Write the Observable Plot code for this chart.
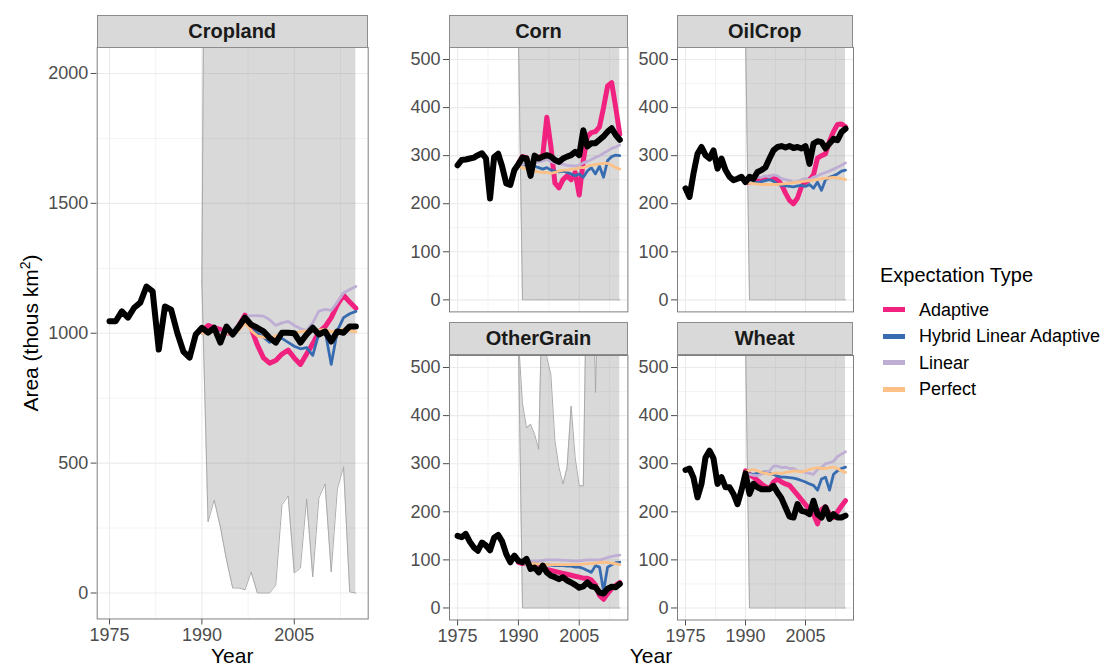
<!DOCTYPE html>
<html>
<head>
<meta charset="utf-8">
<script src="https://cdn.jsdelivr.net/npm/d3@7"></script>
<script src="https://cdn.jsdelivr.net/npm/@observablehq/plot@0.6"></script>
<style>
  body { margin: 0; background: #fff; }
  #root { position: relative; width: 1108px; height: 666px; overflow: hidden; background: #fff;
          font-family: "Liberation Sans", Arial, sans-serif; }
  .panel { position: absolute; }
  .strip { position: absolute; box-sizing: border-box; background: #D9D9D9; border: 1px solid #8C8C8C;
           font-weight: bold; font-size: 20px; color: #1A1A1A; display: flex; align-items: center;
           justify-content: center; line-height: 20px; }
  .ltitle { position: absolute; font-size: 20px; line-height: 20px; color: #000; white-space: nowrap; }
  .lswatch { position: absolute; width: 22px; height: 5px; }
  .llabel { position: absolute; font-size: 18px; line-height: 18px; color: #000; white-space: nowrap; }
</style>
</head>
<body>
<div id="root"></div>
<script>
// ---------------- data ----------------
const years = [1975,1976,1977,1978,1979,1980,1981,1982,1983,1984,1985,1986,1987,1988,1989,1990,1991,1992,1993,1994,1995,1996,1997,1998,1999,2000,2001,2002,2003,2004,2005,2006,2007,2008,2009,2010,2011,2012,2013,2014,2015];
const projYears = [1990,1991,1992,1993,1994,1995,1996,1997,1998,1999,2000,2001,2002,2003,2004,2005,2006,2007,2008,2009,2010,2011,2012,2013,2014,2015];

const seriesNames = ["Adaptive", "Hybrid Linear Adaptive", "Linear", "Perfect"];
const seriesColors = ["#F0217F", "#386CB0", "#BEAED4", "#FDC086"];

const xTicks = [1975, 1990, 2005];
const xMinor = [1982.5, 1997.5, 2012.5];
const cropYTicks = [0, 500, 1000, 1500, 2000];
const cropYMinor = [250, 750, 1250, 1750];
const smallYTicks = [0, 100, 200, 300, 400, 500];
const smallYMinor = [50, 150, 250, 350, 450];

// Cropland
const croplandObserved = [1046,1046,1084,1060,1098,1118,1180,1161,937,1103,1091,1002,929,906,995,1021,1002,1021,964,1026,995,1026,1060,1033,1021,1007,982,964,1002,1002,1000,964,995,1021,995,1007,968,1007,1002,1026,1026];
const croplandAdaptive = [1007,1030,1021,1015,1002,1000,1030,1070,1020,955,905,885,895,920,935,905,880,920,960,1005,1025,1060,1110,1147,1120,1096];
const croplandHybrid   = [1000,1005,1010,1000,1000,1005,1025,1050,1030,1000,985,965,975,980,965,950,940,945,915,1000,1010,880,1010,1060,1075,1084];
const croplandLinear   = [1000,1003,1008,1000,1005,1012,1035,1062,1068,1068,1066,1052,1030,1040,1046,1030,1018,1010,1040,1085,1092,1088,1120,1155,1168,1180];
const croplandPerfect  = [1000,1002,1005,995,1000,1002,1010,1040,1010,990,985,980,990,998,1000,1002,1005,1010,1008,1012,1015,1005,1010,1015,1010,1005];
const croplandLower    = [1200,274,358,254,127,19,19,12,81,0,0,0,31,339,374,77,96,362,62,366,420,81,401,486,4,0];
const croplandUpper    = [1200,5000,5000,5000,5000,5000,5000,5000,5000,5000,5000,5000,5000,5000,5000,5000,5000,5000,5000,5000,5000,5000,5000,5000,5000,5000];

// Corn
const cornObserved = [280,291,292,294,296,301,305,294,211,297,304,277,242,239,270,282,296,294,258,300,294,298,301,298,291,287,294,298,301,308,301,353,319,326,326,333,340,350,357,343,333];
const cornAdaptive = [285,298,296,265,292,296,300,380,320,243,233,250,258,250,265,218,290,340,348,350,360,400,445,452,400,345];
const cornHybrid   = [278,282,280,276,278,275,272,275,270,268,266,268,265,262,258,262,255,268,275,262,278,255,290,298,301,300];
const cornLinear   = [280,282,284,283,285,287,289,292,288,285,283,282,280,279,278,280,285,288,292,296,300,305,310,315,318,322];
const cornPerfect  = [278,275,272,270,268,266,265,265,263,265,268,270,270,272,272,275,275,278,280,282,283,284,284,280,275,272];
const cornLower    = [560,0,0,0,0,0,0,0,0,0,0,0,0,0,0,0,0,0,0,0,0,0,0,0,0,0];
const cornUpper    = [560,1000,1000,1000,1000,1000,1000,1000,1000,1000,1000,1000,1000,1000,1000,1000,1000,1000,1000,1000,1000,1000,1000,1000,1000,1000];

// OilCrop
const oilObserved = [232,214,263,304,318,301,294,311,273,294,270,256,249,252,256,245,256,252,266,270,276,294,311,318,320,317,320,316,318,315,320,283,325,330,328,315,325,335,332,349,356];
const oilAdaptive = [245,245,248,250,252,254,255,255,250,240,222,207,200,212,236,245,250,260,295,300,304,330,350,365,366,360];
const oilHybrid   = [248,246,245,244,246,248,250,247,240,238,237,236,235,237,238,236,240,232,245,228,250,255,258,262,268,270];
const oilLinear   = [250,248,252,255,255,258,256,260,258,252,250,248,245,246,250,252,250,255,258,262,265,268,272,276,280,285];
const oilPerfect  = [245,243,242,241,240,240,240,240,240,241,242,243,244,245,246,247,248,249,250,252,253,254,255,254,252,250];
const oilLower    = [560,0,0,0,0,0,0,0,0,0,0,0,0,0,0,0,0,0,0,0,0,0,0,0,0,0];
const oilUpper    = [560,1000,1000,1000,1000,1000,1000,1000,1000,1000,1000,1000,1000,1000,1000,1000,1000,1000,1000,1000,1000,1000,1000,1000,1000,1000];

// OtherGrain
const grainObserved = [150,147,154,138,126,119,136,130,120,146,152,138,112,95,109,98,95,102,81,84,74,88,74,67,64,60,64,57,53,48,42,45,53,45,43,32,30,40,44,43,50];
const grainAdaptive = [95,92,95,88,85,84,82,80,78,76,74,72,70,68,66,64,62,62,58,48,26,18,30,40,47,53];
const grainHybrid   = [95,94,93,92,92,91,90,90,89,88,88,88,87,87,85,85,82,78,74,88,85,35,85,90,94,95];
const grainLinear   = [95,96,97,97,98,98,99,100,100,100,100,99,99,98,98,98,99,100,100,100,100,102,105,107,109,110];
const grainPerfect  = [95,94,93,92,92,91,91,90,90,90,90,90,90,90,90,90,91,92,92,93,95,95,95,93,92,90];
const grainLower    = [560,0,0,0,0,0,0,0,0,0,0,0,0,0,0,0,0,0,0,0,0,0,0,0,0,0];
const grainUpper    = [560,425,375,382,361,330,700,521,486,348,292,258,292,420,313,254,254,800,800,448,800,800,800,800,800,800];

// Wheat
const wheatObserved = [287,290,271,230,258,313,327,311,258,272,251,251,237,216,245,280,237,258,251,247,247,247,254,240,228,209,190,188,216,202,200,195,223,195,188,209,185,195,188,188,192];
const wheatAdaptive = [285,278,272,265,258,252,248,262,268,262,258,255,245,235,225,215,205,195,175,205,210,195,188,200,212,223];
const wheatHybrid   = [280,279,278,280,282,283,280,278,274,272,272,271,270,268,265,262,258,255,245,268,272,245,278,285,290,293];
const wheatLinear   = [280,278,276,275,278,282,285,295,295,292,293,290,290,285,284,282,280,278,288,292,300,302,305,315,320,325];
const wheatPerfect  = [283,286,288,285,282,280,278,280,281,280,282,283,285,284,283,285,288,290,292,290,290,292,293,290,285,282];
const wheatLower    = [560,0,0,0,0,0,0,0,0,0,0,0,0,0,0,0,0,0,0,0,0,0,0,0,0,0];
const wheatUpper    = [560,1000,1000,1000,1000,1000,1000,1000,1000,1000,1000,1000,1000,1000,1000,1000,1000,1000,1000,1000,1000,1000,1000,1000,1000,1000];

// ---------------- panels ----------------
const panels = [
  { name: "Cropland", observed: croplandObserved, proj: [croplandAdaptive, croplandHybrid, croplandLinear, croplandPerfect],
    lower: croplandLower, upper: croplandUpper, ydomain: [-100, 2100], yticks: cropYTicks, yminor: cropYMinor,
    frame: { x0: 96.7, x1: 367.7, y0: 47.3, y1: 618.8 }, xAxis: true, ml: 96.7 },
  { name: "Corn", observed: cornObserved, proj: [cornAdaptive, cornHybrid, cornLinear, cornPerfect],
    lower: cornLower, upper: cornUpper, ydomain: [-25, 525], yticks: smallYTicks, yminor: smallYMinor,
    frame: { x0: 449.3, x1: 627.7, y0: 47.3, y1: 311.7 }, xAxis: false, ml: 60 },
  { name: "OilCrop", observed: oilObserved, proj: [oilAdaptive, oilHybrid, oilLinear, oilPerfect],
    lower: oilLower, upper: oilUpper, ydomain: [-25, 525], yticks: smallYTicks, yminor: smallYMinor,
    frame: { x0: 676.7, x1: 852.7, y0: 47.3, y1: 311.7 }, xAxis: false, ml: 60 },
  { name: "OtherGrain", observed: grainObserved, proj: [grainAdaptive, grainHybrid, grainLinear, grainPerfect],
    lower: grainLower, upper: grainUpper, ydomain: [-25, 525], yticks: smallYTicks, yminor: smallYMinor,
    frame: { x0: 449.3, x1: 627.7, y0: 354.5, y1: 619 }, xAxis: true, ml: 60 },
  { name: "Wheat", observed: wheatObserved, proj: [wheatAdaptive, wheatHybrid, wheatLinear, wheatPerfect],
    lower: wheatLower, upper: wheatUpper, ydomain: [-25, 525], yticks: smallYTicks, yminor: smallYMinor,
    frame: { x0: 676.7, x1: 852.7, y0: 354.5, y1: 619 }, xAxis: true, ml: 60 }
];

const root = document.getElementById("root");
const projWidths = [5, 2.8, 2.8, 2.8];

for (const p of panels) {
  const f = p.frame;
  const mt = 2, mr = 4, mb = p.xAxis ? 30 : 4;
  const w = p.ml + (f.x1 - f.x0) + mr;
  const h = mt + (f.y1 - f.y0) + mb;
  const obs = years.map((yr, i) => ({ year: yr, v: p.observed[i] }));
  const band = projYears.map((yr, i) => ({ year: yr, lo: p.lower[i], hi: p.upper[i] }));
  const projMarks = p.proj.map((arr, k) =>
    Plot.line(projYears.map((yr, i) => ({ year: yr, v: arr[i] })), {
      x: "year", y: "v", stroke: seriesColors[k], strokeWidth: projWidths[k],
      strokeLinejoin: "round", strokeLinecap: "round", clip: true
    }));
  const chart = Plot.plot({
    width: w, height: h,
    marginLeft: p.ml, marginRight: mr, marginTop: mt, marginBottom: mb,
    style: { background: "transparent", fontSize: "18px", fontFamily: "Liberation Sans, Arial, sans-serif",
             color: "#4D4D4D", overflow: "visible" },
    x: { domain: [1973, 2017], ticks: xTicks, tickFormat: d => String(d), tickSize: 6, tickPadding: 3,
         label: null, axis: p.xAxis ? "bottom" : null },
    y: { domain: p.ydomain, ticks: p.yticks, tickFormat: d => String(d), tickSize: 6, tickPadding: 3, label: null },
    marks: [
      Plot.ruleY(p.yminor, { stroke: "#EBEBEB", strokeWidth: 0.6 }),
      Plot.ruleX(xMinor, { stroke: "#EBEBEB", strokeWidth: 0.6 }),
      Plot.ruleY(p.yticks, { stroke: "#EBEBEB", strokeWidth: 1.1 }),
      Plot.ruleX(xTicks, { stroke: "#EBEBEB", strokeWidth: 1.1 }),
      Plot.areaY(band, { x: "year", y1: "lo", y2: "hi", fill: "#808080", fillOpacity: 0.3, clip: true }),
      Plot.line(band, { x: "year", y: "lo", stroke: "#A3A3A3", strokeWidth: 0.9, clip: true }),
      Plot.line(band, { x: "year", y: "hi", stroke: "#A3A3A3", strokeWidth: 0.9, clip: true }),
      ...projMarks,
      Plot.line(obs, { x: "year", y: "v", stroke: "#000000", strokeWidth: 6,
                       strokeLinejoin: "round", strokeLinecap: "round", clip: true }),
      Plot.frame({ stroke: "#7F7F7F" })
    ]
  });
  chart.classList.add("panel");
  chart.style.position = "absolute";
  chart.style.left = (f.x0 - p.ml) + "px";
  chart.style.top = (f.y0 - mt) + "px";
  chart.style.maxWidth = "none";
  root.appendChild(chart);

  const strip = document.createElement("div");
  strip.className = "strip";
  strip.textContent = p.name;
  strip.style.left = f.x0 + "px";
  strip.style.width = (f.x1 - f.x0) + "px";
  strip.style.top = (f.y0 - 32.8) + "px";
  strip.style.height = "33.3px";
  root.appendChild(strip);
}

// ---------------- axis titles ----------------
const ns = "http://www.w3.org/2000/svg";
const over = document.createElementNS(ns, "svg");
over.setAttribute("width", 1108);
over.setAttribute("height", 666);
over.style.position = "absolute";
over.style.left = "0px";
over.style.top = "0px";
over.style.pointerEvents = "none";
over.style.fontFamily = "Liberation Sans, Arial, sans-serif";
function addText(x, y, txt, rotate) {
  const t = document.createElementNS(ns, "text");
  t.setAttribute("x", x);
  t.setAttribute("y", y);
  t.setAttribute("text-anchor", "middle");
  t.setAttribute("font-size", "21");
  t.setAttribute("fill", "#000");
  if (rotate) t.setAttribute("transform", `rotate(-90 ${x} ${y})`);
  t.textContent = txt;
  over.appendChild(t);
  return t;
}
addText(232.2, 663, "Year");
addText(651, 663, "Year");
const yt = addText(38, 333, "", true);
yt.textContent = "Area (thous km";
const sup = document.createElementNS(ns, "tspan");
sup.setAttribute("font-size", "14");
sup.setAttribute("dy", "-8");
sup.textContent = "2";
yt.appendChild(sup);
const close = document.createElementNS(ns, "tspan");
close.setAttribute("dy", "8");
close.textContent = ")";
yt.appendChild(close);
root.appendChild(over);

// ---------------- legend ----------------
const lt = document.createElement("div");
lt.className = "ltitle";
lt.textContent = "Expectation Type";
lt.style.left = "880px";
lt.style.top = "265px";
root.appendChild(lt);
const legendCenters = [309.5, 336, 362.5, 389];
seriesNames.forEach((name, i) => {
  const sw = document.createElement("div");
  sw.className = "lswatch";
  sw.style.background = seriesColors[i];
  sw.style.left = "883px";
  sw.style.top = (legendCenters[i] - 2.5) + "px";
  root.appendChild(sw);
  const lb = document.createElement("div");
  lb.className = "llabel";
  lb.textContent = name;
  lb.style.left = "919px";
  lb.style.top = (legendCenters[i] - 9) + "px";
  root.appendChild(lb);
});
</script>
</body>
</html>
